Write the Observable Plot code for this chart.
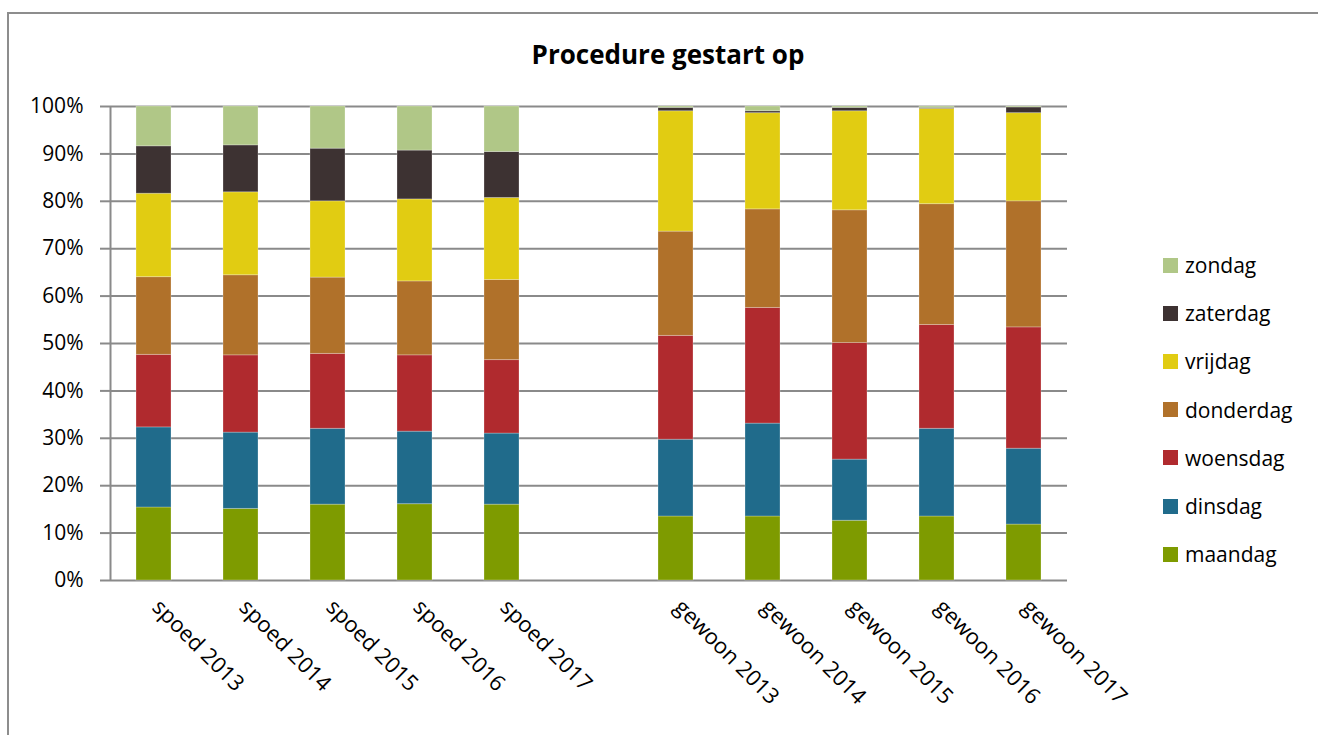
<!DOCTYPE html>
<html>
<head>
<meta charset="utf-8">
<script src="https://cdn.jsdelivr.net/npm/d3@7"></script>
<script src="https://cdn.jsdelivr.net/npm/@observablehq/plot@0.6"></script>
<style>
  html, body { margin: 0; padding: 0; background: #fff; }
  #wrap { position: relative; width: 1318px; height: 735px; overflow: hidden; font-family: "Open Sans", sans-serif; }
  #border { position: absolute; left: 7px; top: 12px; width: 1400px; height: 800px; border: 2px solid #8d8d8d; box-sizing: border-box; }
  #title { position: absolute; left: 0; width: 1336px; top: 36px; text-align: center; font-weight: bold; font-size: 26px; color: #000; }
  #chart { position: absolute; left: 0; top: 0; }
  #legend { position: absolute; left: 1163px; top: 241px; }
  .li { display: flex; align-items: center; height: 48.2px; font-size: 21px; color: #000; }
  .sw { width: 15px; height: 15px; margin-right: 7px; }
</style>
</head>
<body>
<div id="wrap">
  <div id="border"></div>
  <div id="chart"></div>
  <div id="title">Procedure gestart op</div>
  <div id="legend"></div>
</div>
<script>
const categories = ["spoed 2013","spoed 2014","spoed 2015","spoed 2016","spoed 2017"," ","gewoon 2013","gewoon 2014","gewoon 2015","gewoon 2016","gewoon 2017"];
const barCategories = ["spoed 2013","spoed 2014","spoed 2015","spoed 2016","spoed 2017","gewoon 2013","gewoon 2014","gewoon 2015","gewoon 2016","gewoon 2017"];
const days = ["maandag","dinsdag","woensdag","donderdag","vrijdag","zaterdag","zondag"];
const dayColors = ["#7e9b00","#206b8b","#b02a2e","#b0712a","#e1cc12","#3d3232","#b0c787"];
// percentages per category, in order of barCategories
const maandag   = [15.4, 15.1, 16.0, 16.1, 16.0, 13.5, 13.5, 12.6, 13.5, 11.8];
const dinsdag   = [16.9, 16.1, 16.0, 15.3, 15.0, 16.2, 19.6, 12.9, 18.5, 16.0];
const woensdag  = [15.3, 16.3, 15.8, 16.1, 15.5, 21.9, 24.4, 24.6, 21.9, 25.6];
const donderdag = [16.4, 16.9, 16.1, 15.6, 16.9, 22.0, 20.8, 28.0, 25.5, 26.6];
const vrijdag   = [17.6, 17.5, 16.1, 17.3, 17.3, 25.4, 20.3, 20.9, 20.1, 18.6];
const zaterdag  = [10.0,  9.9, 11.1, 10.3,  9.7,  0.7,  0.4,  0.7,  0.2,  1.2];
const zondag    = [ 8.4,  8.2,  8.9,  9.3,  9.6,  0.3,  1.0,  0.3,  0.3,  0.2];
const yTicks = [0,10,20,30,40,50,60,70,80,90,100];

const series = [maandag, dinsdag, woensdag, donderdag, vrijdag, zaterdag, zondag];
const rows = [];
days.forEach((d, i) => barCategories.forEach((c, j) => rows.push({cat: c, day: d, value: series[i][j]})));

const font = '"Open Sans", sans-serif';
const chart = Plot.plot({
  width: 1318,
  height: 735,
  marginLeft: 110,
  marginRight: 251,
  marginTop: 106,
  marginBottom: 155,
  style: {fontFamily: font, background: "transparent", color: "#000"},
  x: {type: "band", domain: categories, paddingInner: 0.6, paddingOuter: 0.3, axis: null, label: null},
  y: {domain: [0, 100], axis: null, label: null},
  color: {domain: days, range: dayColors},
  marks: [
    Plot.gridY(yTicks, {stroke: "#8a8a8a", strokeWidth: 2, strokeOpacity: 1}),
    Plot.axisY(yTicks, {label: null, tickSize: 10, tickPadding: 17, tickFormat: d => d + "%", fontSize: 21, stroke: "#8a8a8a", strokeWidth: 2, color: "#000"}),
    Plot.ruleX([categories[0]], {x: d => d, y1: 0, y2: 100, dx: -43.5, stroke: "#8a8a8a", strokeWidth: 2}),
    Plot.barY(rows, {x: "cat", y: "value", fill: "day", order: days, stroke: "#fff", strokeOpacity: 0.25, strokeWidth: 1}),
    Plot.text(barCategories, {x: d => d, frameAnchor: "bottom", text: d => d, rotate: 45, textAnchor: "start", dx: -3, dy: 28, fontSize: 22, fill: "#000"})
  ]
});
document.getElementById("chart").appendChild(chart);

const legend = document.getElementById("legend");
days.slice().reverse().forEach(d => {
  const li = document.createElement("div");
  li.className = "li";
  const sw = document.createElement("span");
  sw.className = "sw";
  sw.style.background = dayColors[days.indexOf(d)];
  li.appendChild(sw);
  li.appendChild(document.createTextNode(d));
  legend.appendChild(li);
});
</script>
</body>
</html>
